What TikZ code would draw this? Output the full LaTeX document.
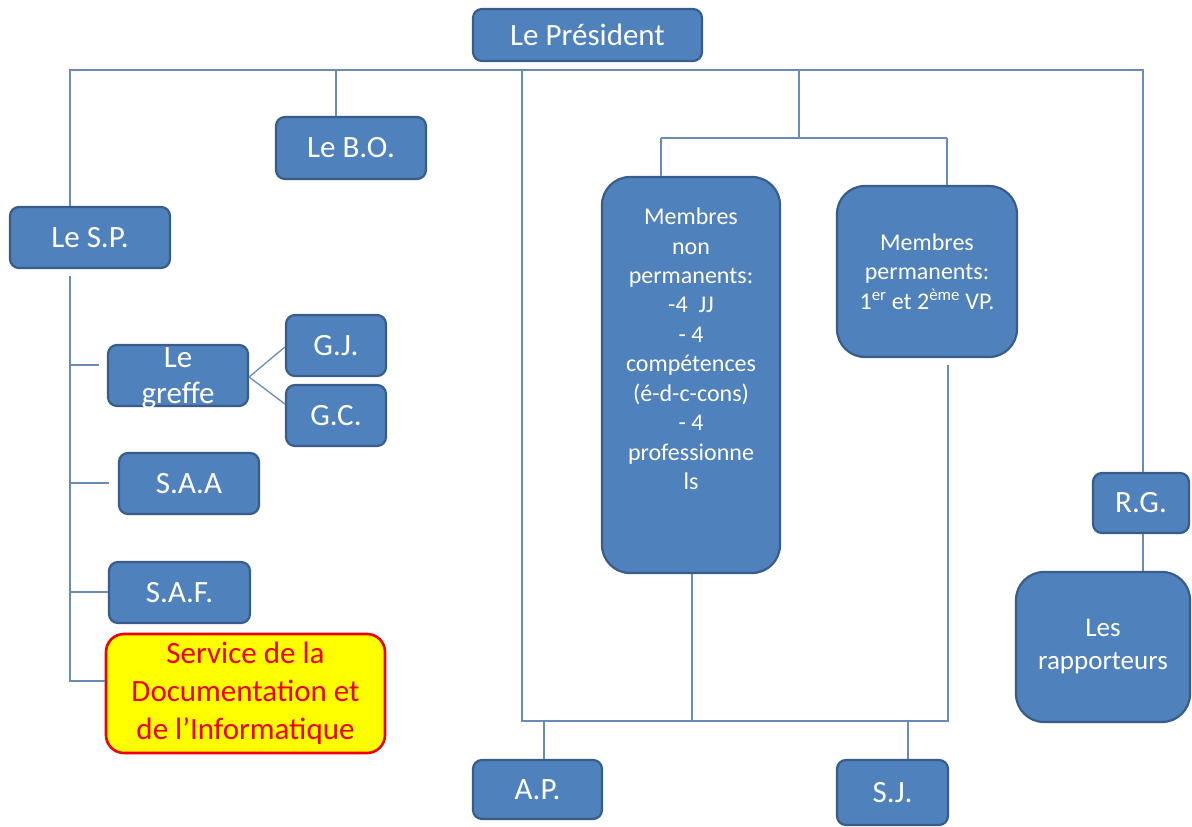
\documentclass[tikz,border=0pt]{standalone}
\usepackage{fontspec}
\setmainfont{Carlito}
\definecolor{boxblue}{HTML}{4F81BD}
\definecolor{bordblue}{HTML}{385D8A}
\definecolor{linecol}{HTML}{6A8BB8}
\definecolor{sdired}{HTML}{F00000}
\definecolor{sdiyellow}{HTML}{FFFF00}
\newcommand\bigfont{\fontsize{31}{37}\selectfont}
\newcommand\midfont{\fontsize{24}{29.5}\selectfont}
\newcommand\rapfont{\fontsize{27}{33}\selectfont}
\tikzset{
  box/.style={draw=bordblue, fill=boxblue, line width=2.2pt, rounded corners=9pt,
    text=white, font=\bigfont, align=center, inner sep=0pt},
  bigbox/.style={box, rounded corners=28pt},
  sdibox/.style={box, draw=sdired, fill=sdiyellow, text=sdired, line width=2.6pt, rounded corners=18pt},
  txt/.style={text=white, align=center, inner sep=0pt},
  conn/.style={draw=linecol, line width=1.3pt},
}
\begin{document}
\begin{tikzpicture}[x=1pt,y=-1pt]
\useasboundingbox[fill=white] (0,0) rectangle (1192,827);

% connectors (drawn first)
\coordinate (busL) at (70,70);
\coordinate (busR) at (1143,70);
\coordinate (vP) at (522,70);
\coordinate (vM) at (799,70);
\coordinate (mL) at (661,138);
\coordinate (mR) at (947,138);
\coordinate (botL) at (522,721);
\coordinate (botR) at (948,721);

% nodes
\node[box, minimum width=229pt, minimum height=52pt] (pres) at (587.5,35) {Le Président};
\node[box, minimum width=150pt, minimum height=62pt] (bo) at (351,148) {Le B.O.};
\node[box, minimum width=160pt, minimum height=61pt] (sp) at (90,237.5) {Le S.P.};
\node[box, minimum width=140pt, minimum height=61pt] (greffe) at (178,375.5) {};
\node[txt, font=\fontsize{31}{36}\selectfont] (greffetxt) at (178,378) {Le\\greffe};
\node[box, minimum width=100pt, minimum height=61pt] (gj) at (336,345.5) {G.J.};
\node[box, minimum width=100pt, minimum height=61pt] (gc) at (336,415.5) {G.C.};
\node[box, minimum width=140pt, minimum height=61pt] (saa) at (189,483.5) {S.A.A};
\node[box, minimum width=141pt, minimum height=61pt] (saf) at (179.5,592.5) {S.A.F.};
\node[sdibox, minimum width=279pt, minimum height=119pt, font=\fontsize{31}{38}\selectfont] (sdi) at (245.5,693.5)
  {Service de la\\Documentation et\\de l’Informatique};
\node[bigbox, minimum width=178pt, minimum height=396pt] (mnp) at (691,375) {};
\node[txt, font=\midfont] (mnptxt) at (691,349)
  {Membres\\non\\permanents:\\-4\ \ JJ\\- 4\\compétences\\(é-d-c-cons)\\- 4\\professionne\\ls};
\node[bigbox, minimum width=180pt, minimum height=171pt, font=\midfont] (mp) at (927,271.5)
  {Membres\\permanents:\\1\textsuperscript{er} et 2\textsuperscript{ème} VP.};
\node[box, minimum width=96pt, minimum height=60pt] (rg) at (1141,503) {R.G.};
\node[bigbox, minimum width=174pt, minimum height=150pt, font=\rapfont] (rap) at (1103,647) {Les\\rapporteurs};
\node[box, minimum width=129pt, minimum height=59pt] (ap) at (537.5,789.5) {A.P.};
\node[box, minimum width=111pt, minimum height=65pt] (sj) at (892.5,792.5) {S.J.};

\begin{scope}[on background layer/.style={}]
\end{scope}

% top bus
\draw[conn] (sp.north -| busL) -- (busL) -- (busR) -- (rg.north -| busR);
\draw[conn] (336,70) -- (bo.north -| 336,0);
% central frame
\draw[conn] (vP) -- (botL) -- (botR) -- (948,365);
\draw[conn] (mnp.south -| 692,0) -- (692,721);
\draw[conn] (544,721) -- (ap.north -| 544,0);
\draw[conn] (908,721) -- (sj.north -| 908,0);
% members
\draw[conn] (vM) -- (vM |- mL);
\draw[conn] (mL) -- (mR);
\draw[conn] (mL) -- (mnp.north -| mL);
\draw[conn] (mR) -- (mp.north -| mR);
% R.G. to rapporteurs
\draw[conn] (rg.south -| 1143,0) -- (rap.north -| 1143,0);
% left column
\coordinate (lTop) at (70,276);
\coordinate (lBot) at (70,681);
\draw[conn] (lTop) -- (lBot) -- (sdi.west |- lBot);
\draw[conn] (70,365) -- (99,365);
\draw[conn] (70,483) -- (109,483);
\draw[conn] (70,592) -- (saf.west |- 70,592);
% greffe branches
\draw[conn] (greffe.east |- 0,377) -- (gj.west |- 0,347);
\draw[conn] (greffe.east |- 0,377) -- (gc.west |- 0,404);
\end{tikzpicture}
\end{document}
